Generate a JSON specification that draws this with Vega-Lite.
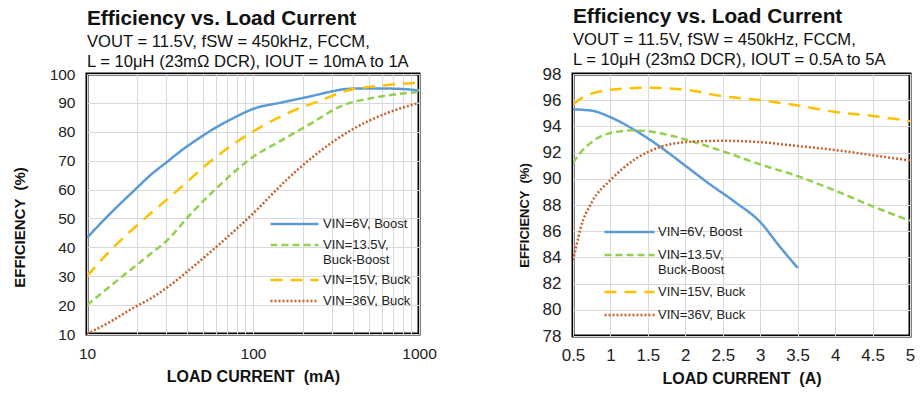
{
  "$schema": "https://vega.github.io/schema/vega-lite/v6.json",
  "padding": {"left": 10, "top": 4, "right": 5, "bottom": 4},
  "background": "white",
  "config": {
    "font": "Liberation Sans",
    "view": {"stroke": "black", "strokeWidth": 3},
    "axis": {"gridColor": "#d9d9d9", "gridWidth": 1, "domain": false, "ticks": false, "labelColor": "#222", "titleColor": "#111", "titleFontWeight": "bold", "labelFlush": false, "labelOverlap": false},
    "title": {"anchor": "start", "frame": "group", "fontSize": 20.8, "fontWeight": "bold", "color": "#111", "subtitleFontSize": 16.6, "subtitleColor": "#111", "subtitleLineHeight": 20, "subtitlePadding": 5, "offset": -5},
    "legend": {"orient": "none", "title": null, "symbolType": "stroke", "symbolStrokeWidth": 2.5, "labelFontSize": 13, "labelColor": "#222", "padding": 0, "clipHeight": 16}
  },
  "datasets": {
    "left": [
      {"series": "VIN=6V, Boost", "current": 10, "eff": 43.3},
      {"series": "VIN=6V, Boost", "current": 13.8, "eff": 51.7},
      {"series": "VIN=6V, Boost", "current": 19.1, "eff": 59.5},
      {"series": "VIN=6V, Boost", "current": 24.1, "eff": 65},
      {"series": "VIN=6V, Boost", "current": 30.4, "eff": 69.6},
      {"series": "VIN=6V, Boost", "current": 37.4, "eff": 73.7},
      {"series": "VIN=6V, Boost", "current": 46, "eff": 77.3},
      {"series": "VIN=6V, Boost", "current": 56.7, "eff": 80.7},
      {"series": "VIN=6V, Boost", "current": 74.8, "eff": 84.5},
      {"series": "VIN=6V, Boost", "current": 100, "eff": 87.9},
      {"series": "VIN=6V, Boost", "current": 150, "eff": 90.2},
      {"series": "VIN=6V, Boost", "current": 227, "eff": 92.4},
      {"series": "VIN=6V, Boost", "current": 300, "eff": 94},
      {"series": "VIN=6V, Boost", "current": 361, "eff": 94.8},
      {"series": "VIN=6V, Boost", "current": 450, "eff": 95},
      {"series": "VIN=6V, Boost", "current": 575, "eff": 95},
      {"series": "VIN=6V, Boost", "current": 800, "eff": 94.8},
      {"series": "VIN=6V, Boost", "current": 1000, "eff": 94.3},
      {"series": "VIN=13.5V, Buck-Boost", "current": 10, "eff": 20},
      {"series": "VIN=13.5V, Buck-Boost", "current": 15.5, "eff": 28.9},
      {"series": "VIN=13.5V, Buck-Boost", "current": 24.1, "eff": 37.7},
      {"series": "VIN=13.5V, Buck-Boost", "current": 30.4, "eff": 42.4},
      {"series": "VIN=13.5V, Buck-Boost", "current": 41, "eff": 50.8},
      {"series": "VIN=13.5V, Buck-Boost", "current": 62.2, "eff": 61.2},
      {"series": "VIN=13.5V, Buck-Boost", "current": 100, "eff": 71.3},
      {"series": "VIN=13.5V, Buck-Boost", "current": 143, "eff": 76.5},
      {"series": "VIN=13.5V, Buck-Boost", "current": 227, "eff": 83.1},
      {"series": "VIN=13.5V, Buck-Boost", "current": 330, "eff": 88.6},
      {"series": "VIN=13.5V, Buck-Boost", "current": 575, "eff": 92.1},
      {"series": "VIN=13.5V, Buck-Boost", "current": 1000, "eff": 93.8},
      {"series": "VIN=15V, Buck", "current": 10, "eff": 30},
      {"series": "VIN=15V, Buck", "current": 14.15, "eff": 39.5},
      {"series": "VIN=15V, Buck", "current": 18.7, "eff": 46.1},
      {"series": "VIN=15V, Buck", "current": 24.1, "eff": 51.7},
      {"series": "VIN=15V, Buck", "current": 30.4, "eff": 56.6},
      {"series": "VIN=15V, Buck", "current": 41.1, "eff": 63.2},
      {"series": "VIN=15V, Buck", "current": 50.5, "eff": 67.8},
      {"series": "VIN=15V, Buck", "current": 65.2, "eff": 72.9},
      {"series": "VIN=15V, Buck", "current": 100, "eff": 80.1},
      {"series": "VIN=15V, Buck", "current": 172, "eff": 87.1},
      {"series": "VIN=15V, Buck", "current": 249, "eff": 90.6},
      {"series": "VIN=15V, Buck", "current": 361, "eff": 94.1},
      {"series": "VIN=15V, Buck", "current": 575, "eff": 95.9},
      {"series": "VIN=15V, Buck", "current": 1000, "eff": 97},
      {"series": "VIN=36V, Buck", "current": 10, "eff": 10},
      {"series": "VIN=36V, Buck", "current": 13.95, "eff": 14.4},
      {"series": "VIN=36V, Buck", "current": 19.1, "eff": 19.1},
      {"series": "VIN=36V, Buck", "current": 24.7, "eff": 22.6},
      {"series": "VIN=36V, Buck", "current": 30.4, "eff": 26.1},
      {"series": "VIN=36V, Buck", "current": 41.1, "eff": 32.1},
      {"series": "VIN=36V, Buck", "current": 62.2, "eff": 40.9},
      {"series": "VIN=36V, Buck", "current": 100, "eff": 51.7},
      {"series": "VIN=36V, Buck", "current": 157, "eff": 63},
      {"series": "VIN=36V, Buck", "current": 227, "eff": 71.1},
      {"series": "VIN=36V, Buck", "current": 396, "eff": 80.8},
      {"series": "VIN=36V, Buck", "current": 630, "eff": 86.3},
      {"series": "VIN=36V, Buck", "current": 1000, "eff": 90}
    ],
    "right": [
      {"series": "VIN=6V, Boost", "current": 0.5, "eff": 95.3},
      {"series": "VIN=6V, Boost", "current": 0.75, "eff": 95.2},
      {"series": "VIN=6V, Boost", "current": 1.0, "eff": 94.7},
      {"series": "VIN=6V, Boost", "current": 1.33, "eff": 93.7},
      {"series": "VIN=6V, Boost", "current": 1.65, "eff": 92.5},
      {"series": "VIN=6V, Boost", "current": 2.0, "eff": 91.0},
      {"series": "VIN=6V, Boost", "current": 2.3, "eff": 89.7},
      {"series": "VIN=6V, Boost", "current": 2.67, "eff": 88.2},
      {"series": "VIN=6V, Boost", "current": 3.0, "eff": 86.7},
      {"series": "VIN=6V, Boost", "current": 3.25, "eff": 84.9},
      {"series": "VIN=6V, Boost", "current": 3.5, "eff": 83.2},
      {"series": "VIN=13.5V, Buck-Boost", "current": 0.5, "eff": 91.2},
      {"series": "VIN=13.5V, Buck-Boost", "current": 0.6, "eff": 92.0},
      {"series": "VIN=13.5V, Buck-Boost", "current": 0.75, "eff": 92.8},
      {"series": "VIN=13.5V, Buck-Boost", "current": 1.0, "eff": 93.5},
      {"series": "VIN=13.5V, Buck-Boost", "current": 1.33, "eff": 93.7},
      {"series": "VIN=13.5V, Buck-Boost", "current": 1.65, "eff": 93.5},
      {"series": "VIN=13.5V, Buck-Boost", "current": 2.0, "eff": 93.0},
      {"series": "VIN=13.5V, Buck-Boost", "current": 2.5, "eff": 92.1},
      {"series": "VIN=13.5V, Buck-Boost", "current": 3.0, "eff": 91.1},
      {"series": "VIN=13.5V, Buck-Boost", "current": 3.5, "eff": 90.2},
      {"series": "VIN=13.5V, Buck-Boost", "current": 4.0, "eff": 89.1},
      {"series": "VIN=13.5V, Buck-Boost", "current": 4.5, "eff": 87.9},
      {"series": "VIN=13.5V, Buck-Boost", "current": 5.0, "eff": 86.8},
      {"series": "VIN=15V, Buck", "current": 0.5, "eff": 95.7},
      {"series": "VIN=15V, Buck", "current": 0.6, "eff": 96.1},
      {"series": "VIN=15V, Buck", "current": 0.75, "eff": 96.5},
      {"series": "VIN=15V, Buck", "current": 1.0, "eff": 96.8},
      {"series": "VIN=15V, Buck", "current": 1.5, "eff": 96.95},
      {"series": "VIN=15V, Buck", "current": 2.0, "eff": 96.8},
      {"series": "VIN=15V, Buck", "current": 2.5, "eff": 96.3},
      {"series": "VIN=15V, Buck", "current": 3.0, "eff": 96.0},
      {"series": "VIN=15V, Buck", "current": 3.5, "eff": 95.6},
      {"series": "VIN=15V, Buck", "current": 4.0, "eff": 95.1},
      {"series": "VIN=15V, Buck", "current": 4.5, "eff": 94.8},
      {"series": "VIN=15V, Buck", "current": 5.0, "eff": 94.4},
      {"series": "VIN=36V, Buck", "current": 0.5, "eff": 83.8},
      {"series": "VIN=36V, Buck", "current": 0.55, "eff": 85.0},
      {"series": "VIN=36V, Buck", "current": 0.6, "eff": 86.2},
      {"series": "VIN=36V, Buck", "current": 0.75, "eff": 88.2},
      {"series": "VIN=36V, Buck", "current": 1.0, "eff": 89.9},
      {"series": "VIN=36V, Buck", "current": 1.33, "eff": 91.5},
      {"series": "VIN=36V, Buck", "current": 1.65, "eff": 92.4},
      {"series": "VIN=36V, Buck", "current": 2.0, "eff": 92.8},
      {"series": "VIN=36V, Buck", "current": 2.5, "eff": 92.9},
      {"series": "VIN=36V, Buck", "current": 3.0, "eff": 92.8},
      {"series": "VIN=36V, Buck", "current": 3.5, "eff": 92.5},
      {"series": "VIN=36V, Buck", "current": 4.0, "eff": 92.2},
      {"series": "VIN=36V, Buck", "current": 4.5, "eff": 91.8},
      {"series": "VIN=36V, Buck", "current": 5.0, "eff": 91.4}
    ]
  },
  "spacing": 78,
  "resolve": {"scale": {"color": "independent", "strokeDash": "independent", "x": "independent", "y": "independent"}, "legend": {"color": "independent", "strokeDash": "independent"}},
  "hconcat": [
    {
      "width": 332,
      "height": 260,
      "data": {"name": "left"},
      "title": {"text": "Efficiency vs. Load Current", "subtitle": ["VOUT = 11.5V, fSW = 450kHz, FCCM,", "L = 10μH (23mΩ DCR), IOUT = 10mA to 1A"]},
      "mark": {"type": "line", "strokeWidth": 2.5, "interpolate": "monotone", "clip": true},
      "encoding": {
        "x": {"field": "current", "type": "quantitative", "scale": {"type": "log", "domain": [10, 1000], "nice": false},
          "axis": {"title": "LOAD CURRENT \u00a0(mA)", "titleFontSize": 16, "titlePadding": 7, "labelFontSize": 15.5, "labelPadding": 12,
            "values": [10, 20, 30, 40, 50, 60, 70, 80, 90, 100, 200, 300, 400, 500, 600, 700, 800, 900, 1000],
            "labelExpr": "indexof([10, 100, 1000], datum.value) >= 0 ? '' + datum.value : ''"}},
        "y": {"field": "eff", "type": "quantitative", "scale": {"domain": [10, 100], "nice": false},
          "axis": {"title": "EFFICIENCY \u00a0(%)", "titleFontSize": 15, "labelFontSize": 15.5, "labelPadding": 12,
            "values": [10, 20, 30, 40, 50, 60, 70, 80, 90, 100], "titleX": -68, "titleY": 153, "titleBaseline": "middle", "titleAngle": -90}},
        "color": {"field": "series", "type": "nominal",
          "scale": {"domain": ["VIN=6V, Boost", "VIN=13.5V, Buck-Boost", "VIN=15V, Buck", "VIN=36V, Buck"], "range": ["#5B9BD5", "#92D050", "#FFC000", "#C8612A"]},
          "legend": {"legendX": 182, "legendY": 142, "symbolSize": 2304, "rowPadding": 5, "labelOffset": 3, "labelExpr": "datum.label == 'VIN=13.5V, Buck-Boost' ? ['VIN=13.5V,', 'Buck-Boost'] : datum.label"}},
        "strokeDash": {"field": "series", "type": "nominal",
          "scale": {"domain": ["VIN=6V, Boost", "VIN=13.5V, Buck-Boost", "VIN=15V, Buck", "VIN=36V, Buck"], "range": [[1, 0], [7, 4], [12, 8], [2, 2]]},
          "legend": {"legendX": 182, "legendY": 142, "symbolSize": 2304, "rowPadding": 5, "labelOffset": 3, "labelExpr": "datum.label == 'VIN=13.5V, Buck-Boost' ? ['VIN=13.5V,', 'Buck-Boost'] : datum.label"}}
      }
    },
    {
      "width": 337,
      "height": 262,
      "data": {"name": "right"},
      "title": {"text": "Efficiency vs. Load Current", "subtitle": ["VOUT = 11.5V, fSW = 450kHz, FCCM,", "L = 10μH (23mΩ DCR), IOUT = 0.5A to 5A"]},
      "mark": {"type": "line", "strokeWidth": 2.5, "interpolate": "monotone", "clip": true},
      "encoding": {
        "x": {"field": "current", "type": "quantitative", "scale": {"domain": [0.5, 5], "nice": false},
          "axis": {"title": "LOAD CURRENT \u00a0(A)", "titleFontSize": 16, "titlePadding": 7, "labelFontSize": 17, "labelPadding": 11,
            "values": [0.5, 1, 1.5, 2, 2.5, 3, 3.5, 4, 4.5, 5], "labelExpr": "'' + datum.value"}},
        "y": {"field": "eff", "type": "quantitative", "scale": {"domain": [78, 98], "nice": false},
          "axis": {"title": "EFFICIENCY \u00a0(%)", "titleFontSize": 13, "labelFontSize": 17, "labelPadding": 12,
            "values": [78, 80, 82, 84, 86, 88, 90, 92, 94, 96, 98], "titleX": -49, "titleY": 141, "titleBaseline": "middle", "titleAngle": -90}},
        "color": {"field": "series", "type": "nominal",
          "scale": {"domain": ["VIN=6V, Boost", "VIN=13.5V, Buck-Boost", "VIN=15V, Buck", "VIN=36V, Buck"], "range": ["#5B9BD5", "#92D050", "#FFC000", "#C8612A"]},
          "legend": {"legendX": 30, "legendY": 150, "symbolSize": 2500, "rowPadding": 7, "labelOffset": 2, "labelExpr": "datum.label == 'VIN=13.5V, Buck-Boost' ? ['VIN=13.5V,', 'Buck-Boost'] : datum.label"}},
        "strokeDash": {"field": "series", "type": "nominal",
          "scale": {"domain": ["VIN=6V, Boost", "VIN=13.5V, Buck-Boost", "VIN=15V, Buck", "VIN=36V, Buck"], "range": [[1, 0], [7, 4], [12, 8], [2, 2]]},
          "legend": {"legendX": 30, "legendY": 150, "symbolSize": 2500, "rowPadding": 7, "labelOffset": 2, "labelExpr": "datum.label == 'VIN=13.5V, Buck-Boost' ? ['VIN=13.5V,', 'Buck-Boost'] : datum.label"}}
      }
    }
  ]
}
